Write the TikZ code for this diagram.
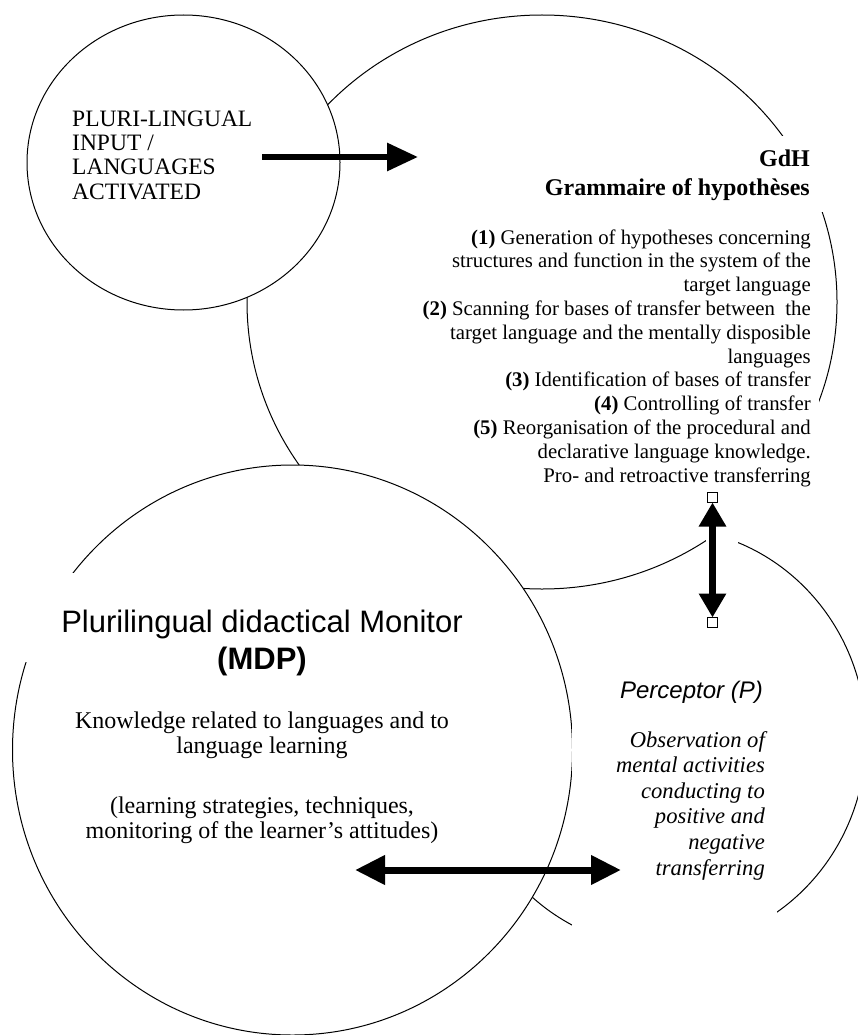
\documentclass[tikz,border=0pt]{standalone}
\usepackage{fontspec}
\setmainfont{Liberation Serif}
\newfontfamily\rsSans{Liberation Sans}
\usetikzlibrary{arrows.meta}
\begin{document}
\begin{tikzpicture}[x=1pt,y=-1pt,
  outline/.style={draw=black, line width=1pt, fill=white},
  maskbox/.style={fill=white, draw=none},
  intext/.style={font=\fontsize{23.5}{24}\selectfont, inner sep=0pt},
  gdhtitle/.style={font=\fontsize{24}{28}\selectfont\bfseries, inner sep=0pt},
  listtext/.style={font=\fontsize{20.8}{23.8}\selectfont, inner sep=0pt},
  mdptitle/.style={font=\fontsize{31}{36}\selectfont\rsSans, inner sep=0pt},
  knowtext/.style={font=\fontsize{24}{25}\selectfont, inner sep=0pt},
  perctitle/.style={font=\fontsize{24}{26}\selectfont\rsSans\itshape, inner sep=0pt},
  obstext/.style={font=\fontsize{22.6}{25.6}\selectfont\itshape, inner sep=0pt},
  handle/.style={draw=black, fill=white, line width=1pt, minimum size=9.5pt, inner sep=0pt},
  arrowone/.style={line width=6pt, -{Triangle[length=31pt,width=27pt]}},
  arrowtwo/.style={line width=7pt, {Triangle[length=24pt,width=26pt]}-{Triangle[length=24pt,width=26pt]}},
  arrowthree/.style={line width=7pt, {Triangle[length=30pt,width=28pt]}-{Triangle[length=30pt,width=28pt]}}
]
\useasboundingbox (0,0) rectangle (858,1035);
\fill[white] (0,0) rectangle (858,1035);
\clip (0,0) rectangle (858,1035);

% circles in stacking order
\draw[outline] (664,738) ellipse [x radius=202, y radius=210];      % Perceptor
\draw[outline] (542,302) ellipse [x radius=295, y radius=287];      % GdH
\draw[outline] (183.5,162.5) ellipse [x radius=156.5, y radius=147.5]; % input
\fill[maskbox] (540,136) rectangle (825,212);   % GdH title box
\fill[maskbox] (600,215) rectangle (819,537);   % GdH list box
\fill[maskbox] (706,522) rectangle (738,550);   % around vertical arrow
\draw[outline] (292.5,750) ellipse [x radius=280, y radius=285];    % MDP
\fill[maskbox] (15,573) rectangle (505,662);    % MDP title box
\fill[maskbox] (572,640) rectangle (777,952);   % Perceptor box

% input text
\foreach \t [count=\i] in {PLURI-LINGUAL, INPUT /, LANGUAGES, ACTIVATED}
  \node[intext, anchor=base west] (in\i) at (72,{127+24*(\i-1)}) {\t};

% GdH title
\node[gdhtitle, anchor=base east] (gt1) at (810,167) {GdH};
\node[gdhtitle, anchor=base east] (gt2) at (810,195) {Grammaire of hypothèses};

% GdH list
\foreach \t [count=\i] in {
  {\textbf{(1)} Generation of hypotheses concerning},
  {structures and function in the system of the},
  {target language},
  {\textbf{(2)} Scanning for bases of transfer between\ \ the},
  {target language and the mentally disposible},
  {languages},
  {\textbf{(3)} Identification of bases of transfer},
  {\textbf{(4)} Controlling of transfer},
  {\textbf{(5)} Reorganisation of the procedural and},
  {declarative language knowledge.},
  {Pro- and retroactive transferring}}
  \node[listtext, anchor=base east] (gl\i) at (811,{244+23.8*(\i-1)}) {\t};

% MDP texts
\node[mdptitle, anchor=base] (mt1) at (262,632) {Plurilingual didactical Monitor};
\node[mdptitle, anchor=base] (mt2) at (262,669) {\bfseries (MDP)};
\node[knowtext, anchor=base] (k1) at (262,728) {Knowledge related to languages and to};
\node[knowtext, anchor=base] (k2) at (262,753) {language learning};
\node[knowtext, anchor=base] (k3) at (262,813) {(learning strategies, techniques,};
\node[knowtext, anchor=base] (k4) at (262,838) {monitoring of the learner’s attitudes)};

% Perceptor texts
\node[perctitle, anchor=base east] (p0) at (763,698) {Perceptor (P)};
\foreach \t [count=\i] in {Observation of, mental activities, conducting to, positive and, negative, transferring}
  \node[obstext, anchor=base east] (p\i) at (765,{747+25.6*(\i-1)}) {\t};

% arrows
\coordinate (a1s) at (262,157);
\coordinate (a1e) at (418,157);
\draw[arrowone] (a1s) -- (a1e);

\coordinate (vt) at (712.5,502.5);
\coordinate (vb) at (712.5,617.5);
\draw[arrowtwo] (vt) -- (vb);
\node[handle] (hs1) at (712.5,497.5) {};
\node[handle] (hs2) at (712.5,622.5) {};

\coordinate (hl) at (355,870);
\coordinate (hr) at (621,870);
\draw[arrowthree] (hl) -- (hr);
\end{tikzpicture}
\end{document}
